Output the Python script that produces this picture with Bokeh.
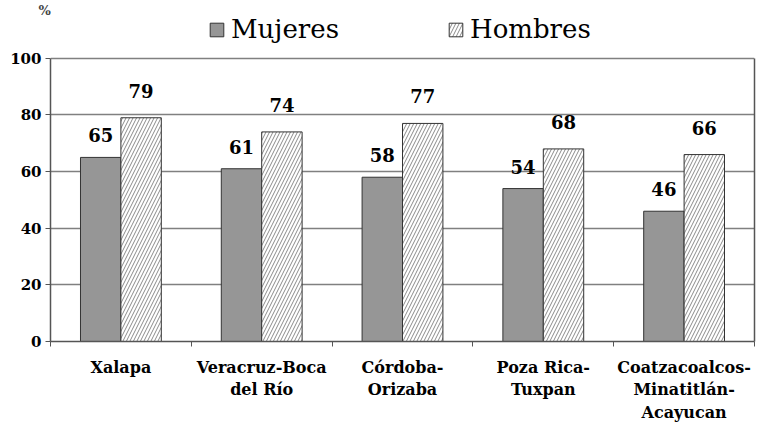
from bokeh.plotting import figure
from bokeh.models import (ColumnDataSource, FixedTicker, Legend, LegendItem,
                          LinearAxis, Range1d)
from bokeh.transform import dodge
from bokeh.core.properties import value
from bokeh.embed import file_html
from bokeh.resources import INLINE

categories = ["Xalapa", "Veracruz-Boca\ndel Río", "Córdoba-\nOrizaba",
              "Poza Rica-\nTuxpan", "Coatzacoalcos-\nMinatitlán-\nAcayucan"]
mujeres = [65, 61, 58, 54, 46]
hombres = [79, 74, 77, 68, 66]
y_ticks = [0, 20, 40, 60, 80, 100]

FONT = "DejaVu Serif"
pos = [i + 0.5 for i in range(len(categories))]

src = ColumnDataSource(dict(
    x=pos, m=mujeres, h=hombres,
    mt=[str(v) for v in mujeres], ht=[str(v) for v in hombres]))

p = figure(width=756, height=425, output_backend="svg", toolbar_location=None,
           x_range=Range1d(0, len(categories)), y_range=Range1d(0, 114.4),
           min_border_left=50, min_border_right=2, min_border_top=16,
           min_border_bottom=76, title="%")
p.background_fill_color = "white"
p.border_fill_color = "white"
p.outline_line_color = None

p.title.text_font = FONT
p.title.text_font_style = "bold"
p.title.text_font_size = "13px"
p.title.align = "left"
p.title.offset = -12
p.title.standoff = 0

bw = 0.287
rm = p.vbar(x=dodge("x", -bw / 2, range=p.x_range), top="m", width=bw, source=src,
            fill_color="#969696", line_color="#333333", line_width=1)
rh = p.vbar(x=dodge("x", bw / 2, range=p.x_range), top="h", width=bw, source=src,
            fill_color="white", line_color="#333333", line_width=1,
            hatch_pattern="/", hatch_color="#8a8a8a", hatch_scale=7, hatch_weight=1)

p.text(x=dodge("x", -bw / 2, range=p.x_range), y="m", text="mt", source=src,
       text_align="center", text_baseline="bottom", y_offset=-15,
       text_font=value(FONT), text_font_style="bold", text_font_size="18px",
       text_color="black")
p.text(x=dodge("x", bw / 2, range=p.x_range), y="h", text="ht", source=src,
       text_align="center", text_baseline="bottom", y_offset=-20,
       text_font=value(FONT), text_font_style="bold", text_font_size="18px",
       text_color="black")

# y axis
p.yaxis.ticker = FixedTicker(ticks=y_ticks)
p.yaxis.bounds = (0, 100)
p.yaxis.major_label_text_font = FONT
p.yaxis.major_label_text_font_style = "bold"
p.yaxis.major_label_text_font_size = "15px"
p.yaxis.major_label_text_color = "black"
p.yaxis.major_tick_out = 5
p.yaxis.major_tick_in = 0
p.yaxis.minor_tick_line_color = None
p.yaxis.major_label_standoff = 4
p.yaxis.axis_line_color = "#555555"
p.yaxis.axis_line_width = 1.5
p.yaxis.major_tick_line_color = "#555555"

# right border of plot area
right_axis = LinearAxis(ticker=FixedTicker(ticks=[]), bounds=(0, 100),
                        axis_line_color="#555555", axis_line_width=1.5,
                        major_tick_line_color=None, minor_tick_line_color=None,
                        major_label_text_font_size="0px")
p.add_layout(right_axis, "right")

# x axis with ticks at group boundaries
p.xaxis.ticker = FixedTicker(ticks=list(range(len(categories) + 1)))
p.xaxis.major_label_overrides = {i: "" for i in range(len(categories) + 1)}
p.xaxis.major_label_text_font_size = "1px"
p.xaxis.major_label_standoff = 0
p.xaxis.major_tick_out = 5
p.xaxis.major_tick_in = 0
p.xaxis.minor_tick_line_color = None
p.xaxis.axis_line_color = "#555555"
p.xaxis.axis_line_width = 1.5
p.xaxis.major_tick_line_color = "#555555"

# category label axis
cat_axis = LinearAxis(ticker=FixedTicker(ticks=pos),
                      major_label_overrides={x: c for x, c in zip(pos, categories)},
                      axis_line_color=None, major_tick_line_color=None,
                      minor_tick_line_color=None, major_label_standoff=5,
                      major_label_text_font=FONT, major_label_text_font_style="bold",
                      major_label_text_font_size="16px",
                      major_label_text_color="black")
p.add_layout(cat_axis, "below")

p.xgrid.grid_line_color = None
p.ygrid.ticker = FixedTicker(ticks=y_ticks)
p.ygrid.grid_line_color = "#808080"
p.ygrid.grid_line_width = 1.5

legend = Legend(items=[LegendItem(label="Mujeres", renderers=[rm]),
                       LegendItem(label="Hombres", renderers=[rh])],
                orientation="horizontal", location=(158, 297), spacing=108,
                glyph_width=17, glyph_height=17, label_standoff=6, padding=0,
                margin=0, border_line_color=None, background_fill_alpha=0,
                label_text_font=FONT, label_text_font_size="26px",
                label_text_color="black")
p.add_layout(legend, "center")

open("out.html", "w").write(file_html(p, INLINE))
